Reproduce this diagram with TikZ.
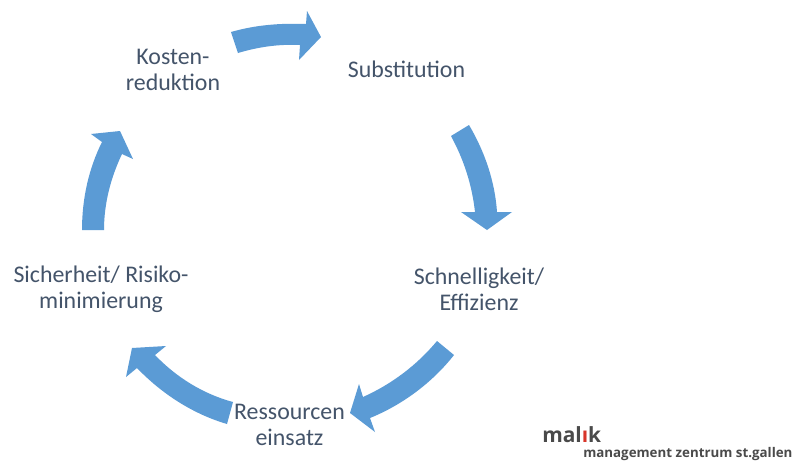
\documentclass[tikz,border=0pt]{standalone}
\usepackage{fontspec}
\setmainfont{Carlito}
\newfontfamily\logofont{Open Sans}
\definecolor{arrowblue}{HTML}{5B9BD5}
\definecolor{labeltext}{HTML}{44546A}
\definecolor{logogrey}{HTML}{4A4A4A}
\definecolor{logored}{HTML}{D8352A}
\tikzset{
  px/.style={x=0.75pt,y=-0.75pt},
  cyclearrow/.style={fill=arrowblue,draw=none},
  label/.style={text=labeltext,font=\fontsize{17.9pt}{19.6pt}\selectfont,align=center,inner sep=0pt},
  logomain/.style={text=logogrey,font=\logofont\bfseries\fontsize{15.7pt}{15pt}\selectfont,inner sep=0pt,anchor=base west},
  logosub/.style={text=logogrey,font=\logofont\fontsize{10pt}{10pt}\selectfont\bfseries,inner sep=0pt,anchor=base west}
}
\begin{document}
\begin{tikzpicture}[px]
\useasboundingbox (0,0) rectangle (794,462);
\fill[white] (0,0) rectangle (794,462);
% top arrow
\fill[cyclearrow] (231,32) .. controls (255,25) and (280,23) .. (306,24) -- (307,11) -- (321,37) -- (299,60) -- (300,45) .. controls (278,44) and (258,47) .. (238,53) -- cycle;
% right arrow
\fill[cyclearrow] (451,136) -- (469,125) .. controls (485,152) and (495,182) .. (497,212) -- (512,212) -- (487,230) -- (461,212) -- (475,212) .. controls (472,185) and (464,160) .. (451,136) -- cycle;
% bottom right arrow
\fill[cyclearrow] (437,341) -- (454,355) .. controls (432,383) and (402,405) .. (370,418) -- (375,432) -- (350,413) -- (359,384) -- (363,397) .. controls (392,384) and (417,365) .. (437,341) -- cycle;
% bottom left arrow
\fill[cyclearrow] (233,402) -- (227,424) .. controls (193,414) and (162,394) .. (137,368) -- (126,377) -- (132,348) -- (166,346) -- (155,355) .. controls (176,377) and (203,394) .. (233,402) -- cycle;
% left arrow
\fill[cyclearrow] (82,230) .. controls (82,198) and (89,168) .. (102,142) -- (91,134) -- (120,131) -- (133,159) -- (122,154) .. controls (111,177) and (104,203) .. (104,230) -- cycle;
% labels
\node[label] (kosten) at (173,69.5) {Kosten-\\reduktion};
\node[label] (subst) at (406.5,69) {Substitution};
\node[label] (schnell) at (479,289) {Schnelligkeit/\\Effizienz};
\node[label] (ress) at (289.5,425) {Ressourcen\\einsatz};
\node[label] (sicher) at (101,289.5) {Sicherheit/ Risiko-\\minimierung\hspace{3pt}};
% logo
\node[logomain] (malik) at (542,442) {mal\textcolor{logored}{ı}k};
\node[logosub] (mzsg) at (583,457.5) {management zentrum st.gallen};
\end{tikzpicture}
\end{document}
